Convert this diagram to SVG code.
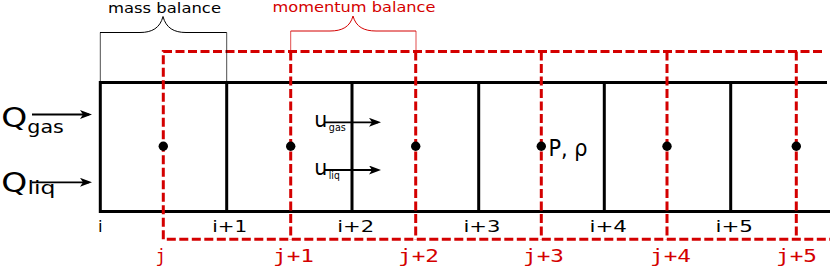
<svg xmlns="http://www.w3.org/2000/svg" width="830" height="267" viewBox="0 0 830 267">
<defs>
<style>
.pipe{stroke:#000;stroke-width:3;fill:none;stroke-linejoin:miter}
.cv{stroke:#d40000;stroke-width:3;fill:none;stroke-dasharray:9 3.5}
.brace{fill:none;stroke-width:1}
.tick{fill:none;stroke-width:0.7}
.t{font-family:"DejaVu Sans",sans-serif;fill:#000}
.red{fill:#d40000}
.r{font-family:"DejaVu Sans Mono",monospace;fill:#d40000;font-size:17.4px}
.dot{fill:#000}
.arr{stroke:#000;stroke-width:1.8;fill:none;marker-end:url(#ah)}
</style>
<marker id="ah" markerUnits="userSpaceOnUse" viewBox="0 0 12 9" markerWidth="12" markerHeight="9" refX="9" refY="4.5" orient="auto">
<path d="M0,0 L12,4.5 L0,9 L3,4.5 z" fill="#000"/>
</marker>
</defs>
<rect width="830" height="267" fill="#fff"/>

<g id="pipe">
<path class="pipe" d="M827,82.5 H100.3 V211.5 H830"/>
<path class="pipe" d="M226.7,82.5 V211.5 M352,82.5 V211.5 M478.7,82.5 V211.5 M604.3,82.5 V211.5 M730.7,82.5 V211.5"/>
</g>

<g id="control-volumes">
<path class="cv" d="M822,51.5 H163.3 V239.3 H830"/>
<path class="cv" d="M290.7,51.5 V239.3 M415.7,51.5 V239.3 M541.3,51.5 V239.3 M667,51.5 V239.3 M796.3,51.5 V239.3"/>
</g>

<g id="nodes">
<circle class="dot" cx="163.3" cy="146.3" r="4.7"/>
<circle class="dot" cx="290.7" cy="146.3" r="4.7"/>
<circle class="dot" cx="415.7" cy="146.3" r="4.7"/>
<circle class="dot" cx="541.3" cy="146.3" r="4.7"/>
<circle class="dot" cx="667" cy="146.3" r="4.7"/>
<circle class="dot" cx="796.3" cy="146.3" r="4.7"/>
</g>

<g id="mass-balance">
<path class="brace" stroke="#000" d="M100,32.5 H140 C152,32.5 160,28 163,16.5 C166,28 174,32.5 186,32.5 H226.7"/>
<path class="tick" stroke="#000" d="M100.3,32.5 V81 M226.7,32.5 V81"/>
<text class="t" x="108" y="12.5" font-size="14.5" textLength="113" lengthAdjust="spacingAndGlyphs">mass balance</text>
</g>

<g id="momentum-balance">
<path class="brace" stroke="#d40000" d="M290.7,31 H330 C342,31 350,27 353,16 C356,27 364,31 376,31 H416"/>
<path class="tick" stroke="#d40000" d="M290.7,31 V50 M416,31 V50"/>
<text class="t red" x="272.5" y="12" font-size="14.5" textLength="163" lengthAdjust="spacingAndGlyphs">momentum balance</text>
</g>

<g id="connectors">
<line class="arr" x1="32" y1="114.5" x2="89" y2="114.5"/>
<line class="arr" x1="32" y1="182.3" x2="89" y2="182.3"/>
<line class="arr" x1="325" y1="122.3" x2="378" y2="122.3"/>
<line class="arr" x1="325" y1="170" x2="378" y2="170"/>
</g>

<g id="flow-labels">
<text class="t" x="1.2" y="127.3" font-size="27" textLength="26" lengthAdjust="spacingAndGlyphs">Q</text>
<text class="t" x="27.3" y="132.5" font-size="17" textLength="36.5" lengthAdjust="spacingAndGlyphs">gas</text>
<text class="t" x="1.2" y="191.7" font-size="27" textLength="26" lengthAdjust="spacingAndGlyphs">Q</text>
<text class="t" x="27.5" y="193.5" font-size="17" textLength="28" lengthAdjust="spacingAndGlyphs">liq</text>
<text class="t" x="314.3" y="126.7" font-size="21" textLength="13" lengthAdjust="spacingAndGlyphs">u</text>
<text class="t" x="328.8" y="130.9" font-size="11" textLength="17" lengthAdjust="spacingAndGlyphs">gas</text>
<text class="t" x="314.3" y="175" font-size="21" textLength="13" lengthAdjust="spacingAndGlyphs">u</text>
<text class="t" x="328.8" y="179" font-size="11" textLength="11" lengthAdjust="spacingAndGlyphs">liq</text>
<text class="t" x="548.5" y="155.7" font-size="23" textLength="39" lengthAdjust="spacingAndGlyphs">P, ρ</text>
</g>

<g id="i-labels" font-size="16.5">
<text class="t" x="98" y="231.7">i</text>
<text class="t" x="212.2" y="231.7" textLength="35" lengthAdjust="spacingAndGlyphs">i+1</text>
<text class="t" x="337.2" y="231.7" textLength="37" lengthAdjust="spacingAndGlyphs">i+2</text>
<text class="t" x="463.5" y="231.7" textLength="37" lengthAdjust="spacingAndGlyphs">i+3</text>
<text class="t" x="589.5" y="231.7" textLength="37.5" lengthAdjust="spacingAndGlyphs">i+4</text>
<text class="t" x="715.5" y="231.7" textLength="37.5" lengthAdjust="spacingAndGlyphs">i+5</text>
</g>

<g id="j-labels">
<text class="r" x="155.5" y="262">j</text>
<text class="r" x="273" y="262" textLength="41" lengthAdjust="spacingAndGlyphs">j+1</text>
<text class="r" x="398" y="262" textLength="41" lengthAdjust="spacingAndGlyphs">j+2</text>
<text class="r" x="523" y="262" textLength="41" lengthAdjust="spacingAndGlyphs">j+3</text>
<text class="r" x="650" y="262" textLength="41" lengthAdjust="spacingAndGlyphs">j+4</text>
<text class="r" x="776" y="262" textLength="41" lengthAdjust="spacingAndGlyphs">j+5</text>
</g>
</svg>
